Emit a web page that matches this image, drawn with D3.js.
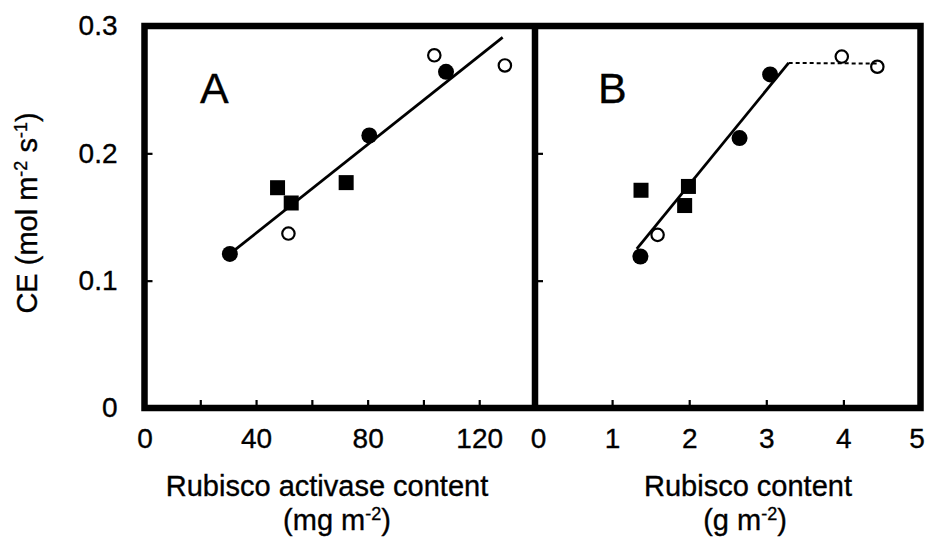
<!DOCTYPE html>
<html>
<head>
<meta charset="utf-8">
<script src="https://cdn.jsdelivr.net/npm/d3@7/dist/d3.min.js"></script>
<style>
  html, body { margin: 0; padding: 0; background: #fff; }
  svg { display: block; }
  text { font-family: "Liberation Sans", Arial, Helvetica, sans-serif; fill: #000; stroke: #000; stroke-width: 0.35px; }
</style>
</head>
<body>
<svg id="chart" width="927" height="542"></svg>
<script>
// CE versus Rubisco activase content (panel A) and Rubisco content (panel B)

// Panel A: x = Rubisco activase (mg m-2), y = CE (mol m-2 s-1)
const filledCirclesA = [[30.6, 0.121], [80.6, 0.214], [108.1, 0.264]];
const openCirclesA   = [[51.6, 0.137], [103.9, 0.277], [129.2, 0.269]];
const squaresA       = [[47.7, 0.173], [52.6, 0.161], [72.3, 0.177]];
const fitLineA       = [[30.6, 0.121], [128.4, 0.291]];

// Panel B: x = Rubisco (g m-2), y = CE (mol m-2 s-1)
const filledCirclesB = [[1.367, 0.119], [2.653, 0.212], [3.05, 0.262]];
const openCirclesB   = [[1.59, 0.136], [3.979, 0.276], [4.44, 0.268]];
const squaresB       = [[1.375, 0.171], [1.941, 0.159], [1.99, 0.174]];
const fitLineB       = [[1.32, 0.125], [3.29, 0.271]];
const plateauB       = [[3.29, 0.271], [4.44, 0.2705]];

// Axis ticks and labels
const yTicks       = [0, 0.1, 0.2, 0.3];
const yLabels      = ["0", "0.1", "0.2", "0.3"];
const xTicksA      = [20, 40, 60, 80, 100, 120];
const xLabelTicksA = [0, 40, 80, 120];
const xTicksB      = [1, 2, 3, 4];
const xLabelTicksB = [0, 1, 2, 3, 4, 5];

const svg = d3.select("#chart");

const xA = d3.scaleLinear().domain([0, 140]).range([144.5, 535]);
const xB = d3.scaleLinear().domain([0, 5]).range([535, 920.5]);
const y  = d3.scaleLinear().domain([0, 0.3]).range([408, 26]);

const line = (xs) => d3.line().x(d => xs(d[0])).y(d => y(d[1]));

// ---- inward ticks ----
function innerTicks(g) {
  g.select(".domain").remove();
  g.selectAll(".tick line").attr("stroke", "#000").attr("stroke-width", 2.2);
  g.selectAll(".tick text").remove();
}
svg.append("g").attr("transform", `translate(0,${y(0)})`)
  .call(d3.axisBottom(xA).tickValues(xTicksA).tickSize(-8)).call(innerTicks);
svg.append("g").attr("transform", `translate(0,${y(0)})`)
  .call(d3.axisBottom(xB).tickValues(xTicksB).tickSize(-8)).call(innerTicks);
svg.append("g").attr("transform", `translate(${xA(0)},0)`)
  .call(d3.axisRight(y).tickValues([0.1, 0.2]).tickSize(8)).call(innerTicks);
svg.append("g").attr("transform", `translate(${xB(0)},0)`)
  .call(d3.axisRight(y).tickValues([0.1, 0.2]).tickSize(8)).call(innerTicks);

// ---- tick labels ----
function labelAxis(g) {
  g.select(".domain").remove();
  g.selectAll(".tick line").remove();
  g.selectAll(".tick text").style("font-size", "28px").attr("fill", "#000");
}
svg.append("g").attr("transform", `translate(0,${y(0)})`)
  .call(d3.axisBottom(xA).tickValues(xLabelTicksA).tickFormat(d3.format("d")).tickSize(0).tickPadding(20))
  .call(labelAxis);
const bLabels = svg.append("g").attr("transform", `translate(0,${y(0)})`)
  .call(d3.axisBottom(xB).tickValues(xLabelTicksB).tickFormat(d3.format("d")).tickSize(0).tickPadding(20))
  .call(labelAxis);
// nudge the end labels of panel B so they clear the neighbouring "120" and the page edge
bLabels.selectAll(".tick text").attr("dx", d => d === 0 ? 3 : d === 5 ? -4 : 0);
svg.append("g").attr("transform", `translate(${xA(0)},0)`)
  .call(d3.axisLeft(y).tickValues(yTicks).tickFormat((d, i) => yLabels[i]).tickSize(0).tickPadding(27))
  .call(labelAxis);

// ---- frame ----
svg.append("rect")
  .attr("x", xA(0)).attr("y", y(0.3))
  .attr("width", xB(5) - xA(0)).attr("height", y(0) - y(0.3))
  .attr("fill", "none").attr("stroke", "#000").attr("stroke-width", 6.5);
svg.append("line")
  .attr("x1", xB(0)).attr("x2", xB(0)).attr("y1", y(0.3)).attr("y2", y(0))
  .attr("stroke", "#000").attr("stroke-width", 6.5);

// ---- regression lines ----
svg.append("path").datum(fitLineA).attr("d", line(xA))
  .attr("fill", "none").attr("stroke", "#000").attr("stroke-width", 2.8);
svg.append("path").datum(fitLineB).attr("d", line(xB))
  .attr("fill", "none").attr("stroke", "#000").attr("stroke-width", 2.8);
svg.append("path").datum(plateauB).attr("d", line(xB))
  .attr("fill", "none").attr("stroke", "#000").attr("stroke-width", 2)
  .attr("stroke-dasharray", "4,3");

// ---- markers ----
function drawPoints(xs, filled, open, squares) {
  const g = svg.append("g");
  g.selectAll(".sq").data(squares).join("rect")
    .attr("x", d => xs(d[0]) - 7.5).attr("y", d => y(d[1]) - 7.5)
    .attr("width", 15).attr("height", 15).attr("fill", "#000");
  g.selectAll(".fc").data(filled).join("circle")
    .attr("cx", d => xs(d[0])).attr("cy", d => y(d[1])).attr("r", 8)
    .attr("fill", "#000");
  g.selectAll(".oc").data(open).join("circle")
    .attr("cx", d => xs(d[0])).attr("cy", d => y(d[1])).attr("r", 6.2)
    .attr("fill", "none").attr("stroke", "#000").attr("stroke-width", 2.2);
}
drawPoints(xA, filledCirclesA, openCirclesA, squaresA);
drawPoints(xB, filledCirclesB, openCirclesB, squaresB);

// ---- panel letters ----
svg.append("text").attr("x", 200).attr("y", 103).style("font-size", "43px").text("A");
svg.append("text").attr("x", 598).attr("y", 103).style("font-size", "43px").text("B");

// ---- axis titles ----
function titleWithSup(sel, parts) {
  parts.forEach(p => {
    const t = sel.append("tspan").text(p.t);
    if (p.sup) t.attr("baseline-shift", "super").style("font-size", "18px");
  });
}
const titleSize = "29px";
svg.append("text").attr("x", 327).attr("y", 496).attr("text-anchor", "middle")
  .style("font-size", titleSize).text("Rubisco activase content");
titleWithSup(svg.append("text").attr("x", 337).attr("y", 530).attr("text-anchor", "middle")
  .style("font-size", titleSize), [{t: "(mg m"}, {t: "-2", sup: true}, {t: ")"}]);
svg.append("text").attr("x", 748).attr("y", 496).attr("text-anchor", "middle")
  .style("font-size", titleSize).text("Rubisco content");
titleWithSup(svg.append("text").attr("x", 745).attr("y", 530).attr("text-anchor", "middle")
  .style("font-size", titleSize), [{t: "(g m"}, {t: "-2", sup: true}, {t: ")"}]);

titleWithSup(svg.append("text")
  .attr("transform", "translate(37,213) rotate(-90)")
  .attr("text-anchor", "middle").style("font-size", "29px"),
  [{t: "CE (mol m"}, {t: "-2", sup: true}, {t: " s"}, {t: "-1", sup: true}, {t: ")"}]);
</script>
</body>
</html>
